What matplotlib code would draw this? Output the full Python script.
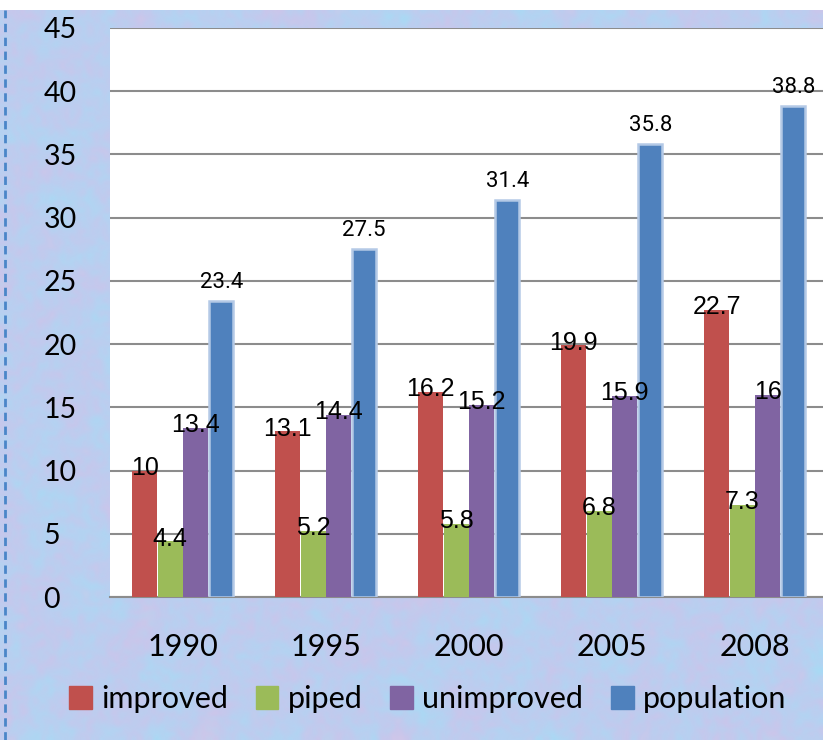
import numpy as np
import matplotlib
matplotlib.use('Agg')
import matplotlib.pyplot as plt
from matplotlib.colors import LinearSegmentedColormap
from matplotlib.patches import Rectangle
from matplotlib.lines import Line2D

# values per year (millions)
years = ['1990', '1995', '2000', '2005', '2008']
improved = [10, 13.1, 16.2, 19.9, 22.7]
piped = [4.4, 5.2, 5.8, 6.8, 7.3]
unimproved = [13.4, 14.4, 15.2, 15.9, 16]
population = [23.4, 27.5, 31.4, 35.8, 38.8]
series_names = ['improved', 'piped', 'unimproved', 'population']
colors = ['#C0504D', '#9BBB59', '#8064A2', '#4F81BD']

W, H = 823, 740
fig = plt.figure(figsize=(W / 100, H / 100), dpi=100)
fig.patch.set_facecolor('white')

# marbled pastel backdrop
bg = fig.add_axes([0, 0, 1, 1 - 10 / H])
bg.set_axis_off()
rng = np.random.default_rng(7)
cmap = LinearSegmentedColormap.from_list(
    'marble', ['#a2def7', '#b0d6f3', '#bccef0', '#c8c7ec', '#d9c6e6'])
coarse = rng.random((45, 50))
fine = rng.random((180, 200))
bg.imshow(coarse, cmap=cmap, interpolation='bicubic', aspect='auto',
          extent=[0, 1, 0, 1], vmin=-0.05, vmax=1.05)
bg.imshow(fine, cmap=cmap, interpolation='bicubic', aspect='auto',
          extent=[0, 1, 0, 1], alpha=0.4)
bg.set_xlim(0, 1)
bg.set_ylim(0, 1)
bg.add_line(Line2D([5 / W, 5 / W], [0, 1], color='#4a86c8', lw=2,
                   linestyle=(0, (3, 2)), transform=bg.transAxes))

ax = fig.add_axes([110 / W, 143 / H, 1 - 110 / W, (597 - 28) / H])
ax.set_facecolor('white')
x = np.arange(len(years))
bw = 0.178
data = [improved, piped, unimproved, population]

for i, (vals, c) in enumerate(zip(data, colors)):
    pos = x + (i - 1.5) * bw
    if i == 3:
        ax.bar(pos, vals, bw * 0.96, color=c, edgecolor='#b4c9e6', linewidth=1.8, zorder=3)
        for p, v in zip(pos, vals):
            ax.annotate(f'{v:g}', (p, v), xytext=(0, 6), textcoords='offset points',
                        ha='center', va='bottom', fontsize=16,
                        family=['Liberation Sans Narrow', 'Roboto'], zorder=5)
    else:
        ax.bar(pos, vals, bw * 0.98, color=c, edgecolor='none', zorder=3)
        for p, v in zip(pos, vals):
            ax.annotate(f'{v:g}', (p, v), xytext=(0, 2), textcoords='offset points',
                        ha='center', va='center', fontsize=18,
                        family='Liberation Sans', zorder=5)

ax.set_xlim(-0.51, 4.475)
ax.set_ylim(0, 45)
ax.set_yticks(range(0, 46, 5))
ax.yaxis.grid(True, color='#8c8c8c', linewidth=1.5, zorder=0)
ax.set_axisbelow(True)
for s in ['top', 'right', 'left']:
    ax.spines[s].set_visible(False)
ax.spines['bottom'].set_color('#8c8c8c')
ax.spines['bottom'].set_linewidth(1.5)
ax.tick_params(axis='y', length=0, pad=48, labelsize=20.5)
for t in ax.get_yticklabels():
    t.set_horizontalalignment('left')
    t.set_family('Lato')
ax.set_xticks(x)
ax.set_xticklabels(years, fontsize=22, family='Lato')
ax.tick_params(axis='x', length=0, pad=26)

handles = [Rectangle((0, 0), 1, 1, color=c) for c in colors]
fig.legend(handles, series_names, loc='center', bbox_to_anchor=(0.5 + 16 / W, 1 - 699 / H),
           ncol=4, frameon=False, prop={'family': 'Lato', 'size': 22},
           handlelength=0.75, handleheight=0.75, handletextpad=0.3, columnspacing=0.9)

fig.savefig('out.png', dpi=100)
